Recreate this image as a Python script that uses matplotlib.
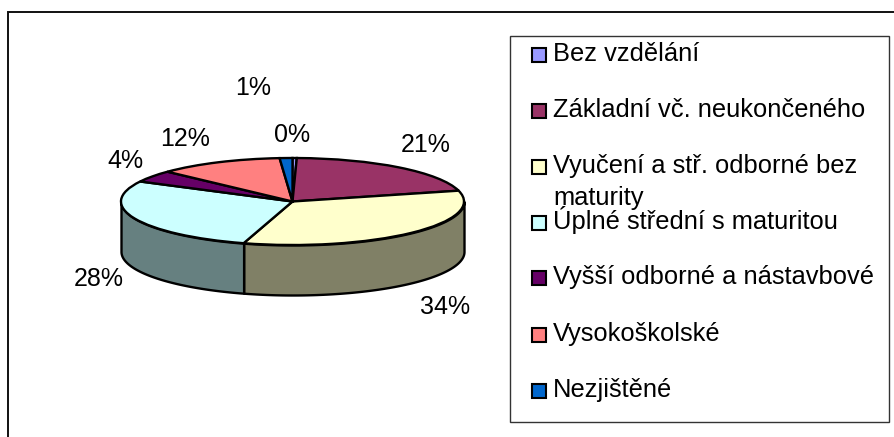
import numpy as np
import matplotlib
matplotlib.use("Agg")
import matplotlib.pyplot as plt
from matplotlib.colors import to_rgb
from matplotlib.patches import Rectangle

plt.rcParams['font.family'] = ['Liberation Sans', 'DejaVu Sans']

categories = ["Bez vzdělání", "Základní vč. neukončeného",
              "Vyučení a stř. odborné bez\nmaturity",
              "Úplné střední s maturitou", "Vyšší odborné a nástavbové",
              "Vysokoškolské", "Nezjištěné"]
values = [0.4, 20.6, 33.6, 28.0, 4.4, 11.8, 1.2]
colors = ["#9999FF", "#993366", "#FFFFCC", "#CCFFFF", "#660066", "#FF8080", "#0066CC"]

W, H = 894, 437
FS = 18
FS_LEG = 18.4
fig = plt.figure(figsize=(W / 100, H / 100), dpi=100)

bg = fig.add_axes([0, 0, 1, 1], zorder=0)
bg.set_xlim(0, W)
bg.set_ylim(H, 0)
bg.axis("off")
top = fig.add_axes([0, 0, 1, 1], zorder=3)
top.set_xlim(0, W)
top.set_ylim(H, 0)
top.axis("off")
top.patch.set_alpha(0)

# chart frame
bg.plot([8, 8, W], [H, 11.5, 11.5], color="#111111", lw=1.4, solid_joinstyle="miter")

# pie: the axes spans exactly the top ellipse
cx, cy, rx, ry, depth = 292.5, 201.5, 171.5, 43.5, 50
ax = fig.add_axes([(cx - rx) / W, 1 - (cy + ry) / H, 2 * rx / W, 2 * ry / H], zorder=2)
ax.patch.set_alpha(0)
edge = dict(edgecolor="black", linewidth=1.7)
ax.pie(values, colors=colors, startangle=90, counterclock=False, radius=1,
       wedgeprops=edge, frame=False)
ax.set_aspect("auto")
ax.set_xlim(-1, 1)
ax.set_ylim(-1, 1)
for p in ax.patches:
    p.set_clip_on(False)

# side wall of the disc
d = depth / ry
ends = np.cumsum(values) / np.sum(values) * 360
starts = np.r_[0, ends[:-1]]
for a, b, c in zip(starts, ends, colors):
    lo, hi = max(a, 90), min(b, 270)
    if hi <= lo:
        continue
    t = np.radians(np.linspace(lo, hi, 100))
    x, y = np.sin(t), np.cos(t)
    shade = tuple(0.5 * v for v in to_rgb(c))
    ax.fill_between(x, y, y - d, color=shade, edgecolor="black", linewidth=1.7,
                    clip_on=False, zorder=0)

# percent labels
label_xy = [(291.7, 132), (426, 142.7), (445, 304), (98.3, 276),
            (125, 158.7), (185, 136), (252.7, 85.5)]
for v, (lx, ly) in zip(values, label_xy):
    top.text(lx, ly, f"{round(v)}%", ha="center", va="center_baseline", fontsize=FS, color="black")

# legend box
bg.add_patch(Rectangle((509.5, 35.5), 379.5, 386, facecolor="white", edgecolor="#333333", lw=1.0))
rows = [55, 111, 167, 223, 278, 335, 390.5]
for name, c, row in zip(categories, colors, rows):
    top.add_patch(Rectangle((531.5, row - 7), 14, 14, facecolor=c, edgecolor="black", lw=1.5))
    line1, *rest = name.split("\n")
    top.text(553, row + 6, line1, ha="left", va="baseline", fontsize=FS_LEG)
    if rest:
        top.text(553, row + 38, rest[0], ha="left", va="baseline", fontsize=FS_LEG)

fig.savefig("out.png", dpi=100, facecolor="white")
